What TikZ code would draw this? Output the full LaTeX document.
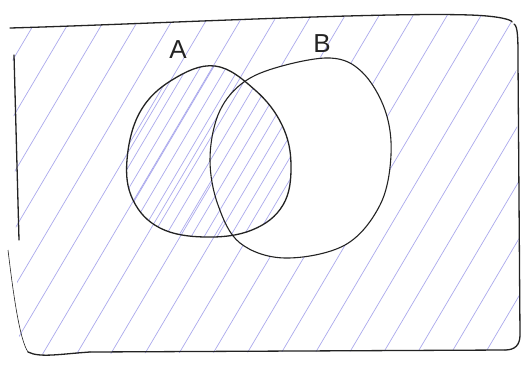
\documentclass[tikz,border=0pt]{standalone}
\usepackage{fontspec}
\setmainfont{Liberation Sans}
\definecolor{hatch}{RGB}{115,112,225}
\definecolor{ink}{RGB}{35,35,35}
\tikzset{
  outline/.style={draw=ink, line width=1.3pt, line cap=round, line join=round},
  hatchline/.style={draw=hatch, line width=0.7pt, opacity=0.6},
  setlabel/.style={font=\fontsize{26}{26}\selectfont, text=ink, inner sep=0pt}
}
\def\univpath{(12,28) .. controls (150,24) and (380,12) .. (490,16) .. controls (512,18) and (516,24) .. (516,40) -- (520,335) .. controls (520,348) and (512,350) .. (500,350) -- (60,354) .. controls (30,356) and (20,350) .. (18,330) -- cycle}
\def\Bpath{plot[smooth cycle, tension=0.6] coordinates {(330,58) (362,72) (385,110) (391,155) (380,205) (345,245) (285,258) (240,243) (218,205) (210,160) (218,115) (240,85) (275,68)}}
\def\Apath{plot[smooth cycle, tension=0.65] coordinates {(215,66) (255,90) (282,125) (291,165) (283,205) (252,230) (205,237) (160,228) (133,200) (127,160) (140,112) (172,80)}}
\begin{document}
\begin{tikzpicture}[x=1pt,y=-1pt]
\useasboundingbox (0,0) rectangle (528,368);
\fill[white] (0,0) rectangle (528,368);
% sparse hatching: universe minus B
\begin{scope}[even odd rule]
  \clip \univpath;
  \clip (0,0) rectangle (528,368) \Bpath;
  \foreach \c in {-240,-206,...,540}
    \draw[hatchline] (\c,372) -- ++(225,-380);
\end{scope}
% dense hatching inside A
\begin{scope}
  \clip \Apath;
  \foreach \c in {-240,-227,...,540}
    \draw[hatchline] (\c,372) -- ++(225,-380);
\end{scope}
% universe outline
\path[outline] (10,28) .. controls (150,24) and (380,12) .. (470,15) .. controls (500,16) and (512,20) .. (512,22);
\path[outline] (514,24) .. controls (518,26) and (518,40) .. (518,60) -- (520,335) .. controls (520,345) and (515,350) .. (505,350);
\path[outline] (505,350) -- (90,352);
\path[outline] (90,352) .. controls (60,354) and (40,358) .. (28,352);
\path[outline] (14,55) -- (19,240);
\path[draw=ink, line width=0.6pt] (8,250) .. controls (14,300) and (20,340) .. (28,352);
% circles
\path[outline] \Apath;
\path[outline, line width=1.1pt] \Bpath;
% labels
\node[setlabel] (labA) at (178,50) {A};
\node[setlabel] (labB) at (322,44) {B};
\end{tikzpicture}
\end{document}
